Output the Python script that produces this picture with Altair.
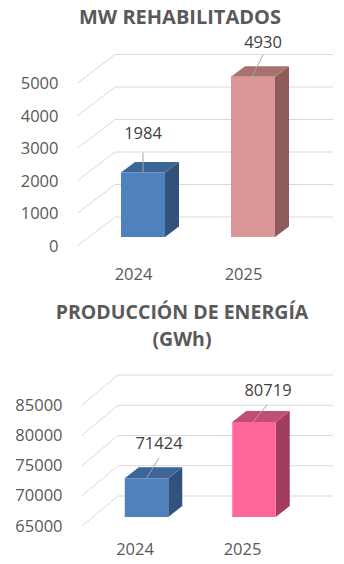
import altair as alt
import pandas as pd

# ---------------- data ----------------
years = [2024, 2025]
mw_values = [1984, 4930]
gwh_values = [71424, 80719]
mw_ticks = [0, 1000, 2000, 3000, 4000, 5000]
gwh_ticks = [65000, 70000, 75000, 80000, 85000]

# face colours per bar: (front, top, side)
mw_colors = [("#4F81BD", "#3D6595", "#31527A"), ("#D99694", "#A8716F", "#8C5B5A")]
gwh_colors = [("#4F81BD", "#3D6595", "#31527A"), ("#FF6699", "#C24D77", "#A33D60")]

FONT = "Open Sans"
GREY = "#595959"
LABEL_SIZE = 16.5


def panel(values, ticks, base, colors, title, geo, labels):
    W, H = geo["W"], geo["H"]
    ppx = geo["ppx"]          # pixels per year
    ppu = geo["ppu"]          # pixels per value unit
    cx = geo["cx"]            # pixel x of first year centre (plot-relative)
    by = geo["by"]            # pixel y of base value on bar front plane
    ux = lambda p: p / ppx
    uy = lambda p: p / ppu
    xdom = [years[0] - ux(cx), years[0] + ux(W - cx)]
    ydom = [base - uy(H - by), base + uy(by)]
    xs = alt.Scale(domain=xdom, nice=False, zero=False)
    ys = alt.Scale(domain=ydom, nice=False, zero=False)
    xa = alt.Axis(values=years, format="d", domain=False, ticks=False, grid=False,
                  labelOffset=geo["xlo"], labelPadding=geo["xlp"], labelFont=FONT,
                  labelFontSize=LABEL_SIZE, labelColor=GREY, title=None)
    ya = alt.Axis(values=ticks, format="d", domain=False, ticks=False, grid=False,
                  labelOffset=geo["front"], labelPadding=geo["ylp"], labelFont=FONT,
                  labelFontSize=LABEL_SIZE, labelColor=GREY, title=None)
    X = lambda f: alt.X(f, scale=xs, axis=xa)
    Y = lambda f: alt.Y(f, scale=ys, axis=ya)

    hw = ux(geo["half"])
    ddx = ux(geo["dx"])
    ddy = uy(geo["dy"])

    # grid lines (front diagonal then back wall)
    g = []
    for t in ticks:
        g.append({"t": t, "o": 0, "x": xdom[0] + ux(geo["gf"]), "y": t - uy(geo["front"])})
        g.append({"t": t, "o": 1, "x": xdom[0] + ux(geo["gb"]), "y": t + uy(geo["back"])})
        g.append({"t": t, "o": 2, "x": xdom[0] + ux(geo["gr"]), "y": t + uy(geo["back"])})
    grid = alt.Chart(pd.DataFrame(g)).mark_line(color="#D9D9D9", strokeWidth=1).encode(
        x=X("x:Q"), y=Y("y:Q"), detail="t:N", order="o:Q")

    front, top, side, lab, lead = [], [], [], [], []
    for i, (yr, v) in enumerate(zip(years, values)):
        cf, ct, cs = colors[i]
        front.append({"yr": yr, "x": yr - hw, "x2": yr + hw, "y": base, "y2": v, "c": cf})
        top.append({"k": yr, "y": v, "x": yr - hw, "x2": yr + hw, "c": ct})
        top.append({"k": yr, "y": v + ddy, "x": yr - hw + ddx, "x2": yr + hw + ddx, "c": ct})
        side.append({"k": yr, "x": yr + hw, "y": base, "y2": v, "c": cs})
        side.append({"k": yr, "x": yr + hw + ddx, "y": base + ddy, "y2": v + ddy, "c": cs})
        lx, ly, tx, ty, bx = labels[i]
        lab.append({"x": yr + ux(lx), "y": v + uy(ly), "t": str(v)})
        lead.append({"x": yr + ux(tx), "y": v + uy(ty), "x2": yr + ux(bx), "y2": v})

    side_l = alt.Chart(pd.DataFrame(side)).mark_area(orient="vertical", opacity=1).encode(
        x=X("x:Q"), y=Y("y:Q"), y2="y2:Q",
        color=alt.Color("c:N", scale=None), detail="k:N")
    top_l = alt.Chart(pd.DataFrame(top)).mark_area(orient="horizontal", opacity=1).encode(
        y=Y("y:Q"), x=X("x:Q"), x2="x2:Q",
        color=alt.Color("c:N", scale=None), detail="k:N")
    front_l = alt.Chart(pd.DataFrame(front)).mark_rect().encode(
        x=X("x:Q"), x2="x2:Q", y=Y("y:Q"), y2="y2:Q",
        color=alt.Color("c:N", scale=None))
    lead_l = alt.Chart(pd.DataFrame(lead)).mark_rule(color="#A6A6A6", strokeWidth=1).encode(
        x=X("x:Q"), y=Y("y:Q"), x2="x2:Q", y2="y2:Q")
    text_l = alt.Chart(pd.DataFrame(lab)).mark_text(font=FONT, fontSize=LABEL_SIZE, color="#404040",
                                                     baseline="middle", align="center").encode(
        x=X("x:Q"), y=Y("y:Q"), text="t:N")

    return alt.layer(grid, side_l, top_l, front_l, lead_l, text_l).properties(
        width=W, height=H,
        title=alt.TitleParams(title, font=FONT, fontSize=geo["tfs"], fontWeight="bold", color=GREY,
                              anchor="middle", offset=geo["toff"], lineHeight=27, dx=geo["tdx"]))


top_geo = dict(W=258, H=204, ppx=110, ppu=0.0325, cx=66, by=188, half=22, dx=14, dy=10.5,
               gf=0, gb=38, gr=256, front=9, back=20, xlo=-10, xlp=13, ylp=19, toff=7, tdx=-26, tfs=20)
bot_geo = dict(W=258, H=162, ppx=107.5, ppu=0.00605, cx=69.5, by=147, half=21.75, dx=14, dy=11,
               gf=5, gb=41, gr=256, front=9, back=21, xlo=-12, xlp=9, ylp=15, toff=20, tdx=-24, tfs=19.5)

# label placement relative to bar top-front centre (px): label dx, label rise, leader top dx, rise, leader bottom dx
top_labels = [(0, 39, 0, 20, 0), (10, 34, 10, 22, -1)]
bot_labels = [(12.5, 34, 12.5, 20, 0), (14, 31, 13, 17, -1)]

c1 = panel(mw_values, mw_ticks, 0, mw_colors, "MW REHABILITADOS", top_geo, top_labels)
c2 = panel(gwh_values, gwh_ticks, 65000, gwh_colors, ["PRODUCCIÓN DE ENERGÍA", "(GWh)"], bot_geo, bot_labels)

chart = alt.vconcat(c1, c2, spacing=19).properties(
    padding={"left": 14, "top": 7, "right": 0, "bottom": 8}
).configure(background="white").configure_view(stroke=None)

chart.save("out.html", embed_options={"renderer": "svg", "actions": False})
